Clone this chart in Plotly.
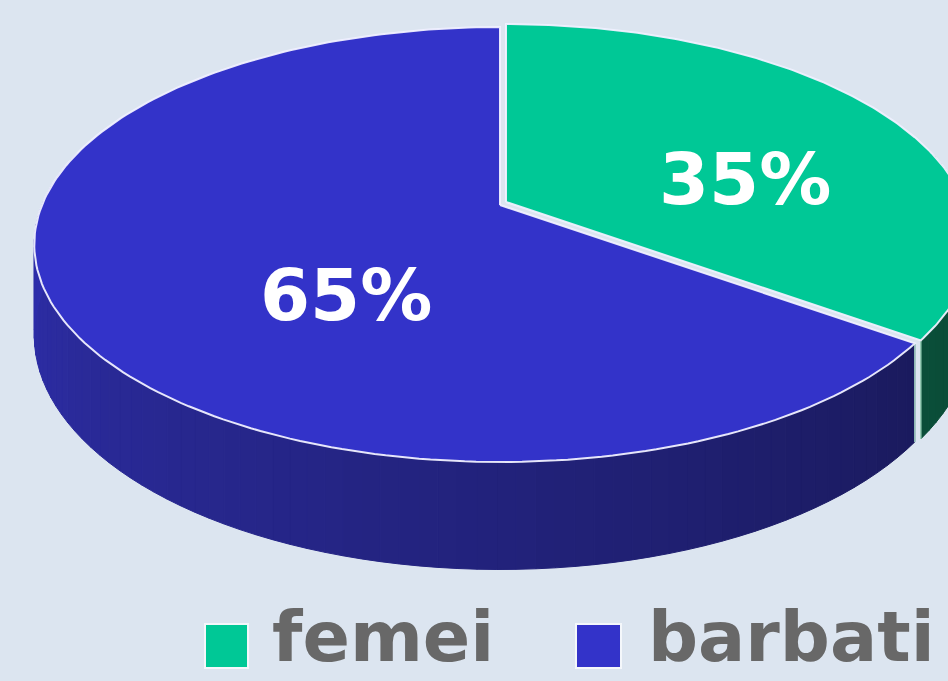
import numpy as np
import plotly.graph_objects as go

# ---------------- data ----------------
categories = ["femei", "barbati"]
values = [35, 65]
labels = ["35%", "65%"]

# ---------------- style ----------------
top_colors = ["#00C896", "#3333C9"]
wall_light = ["#0C5E44", "#2F2FAC"]
wall_dark = ["#0A4A36", "#15154A"]
explode = [(6, -3), (0, 0)]          # pixel offset of each slice
bg = "#DCE5F0"
W, H = 948, 681

# 3D projection geometry (pixel space)
CX, CY = 500, 205
A, B, K, T = 458, 210.3, 0.1816, 88


def proj(phi_deg, depth=0.0, r=1.0, off=(0, 0)):
    ph = np.radians(phi_deg)
    X, Y = r * np.sin(ph), r * np.cos(ph)
    p = 1.0 / (1.0 + K * Y)
    return CX + off[0] + A * X * p, CY + off[1] - B * Y * p + depth * T * p


def hex2rgb(h):
    h = h.lstrip("#")
    return [int(h[i:i + 2], 16) for i in (0, 2, 4)]


def mix(c1, c2, t):
    a, b = hex2rgb(c1), hex2rgb(c2)
    return "rgb(%d,%d,%d)" % tuple(round(a[i] + (b[i] - a[i]) * t) for i in range(3))


fig = go.Figure()

total = sum(values)
starts = np.cumsum([0] + values[:-1]) / total * 360
ends = np.cumsum(values) / total * 360

# ---- side walls (front part) ----
for i in range(len(values)):
    s, e = starts[i], ends[i]
    off = explode[i]
    lo, hi = max(s, 75), min(e, 285)
    if hi <= lo:
        continue
    n = max(2, int((hi - lo) / 2))
    edges = np.linspace(lo, hi, n + 1)
    for j in range(n):
        a1, a2 = edges[j], edges[j + 1]
        # gradient: lighter at the left (phi ~ 270), darker towards the right
        t = ((a1 + a2) / 2 - 90) / 180
        t = min(max(t, 0), 1)
        col = mix(wall_dark[i], wall_light[i], t)
        x1, y1 = proj(a1, off=off)
        x2, y2 = proj(a2, off=off)
        x3, y3 = proj(a2, 1, off=off)
        x4, y4 = proj(a1, 1, off=off)
        fig.add_trace(go.Scatter(
            x=[x1, x2, x3, x4, x1], y=[y1, y2, y3, y4, y1],
            fill="toself", fillcolor=col, mode="lines",
            line=dict(color=col, width=1), hoverinfo="skip", showlegend=False))
    # light edge line at the slice border
    for ang in (s, e):
        if 90 <= ang <= 270:
            xa, ya = proj(ang, off=off)
            xb, yb = proj(ang, 1, off=off)
            fig.add_trace(go.Scatter(x=[xa, xb], y=[ya, yb], mode="lines",
                                     line=dict(color="rgba(170,225,200,0.85)", width=1.5),
                                     hoverinfo="skip", showlegend=False))

# ---- top faces ----
for i in range(len(values)):
    s, e = starts[i], ends[i]
    off = explode[i]
    angs = np.linspace(s, e, 200)
    xs, ys = proj(angs, off=off)
    x0, y0 = proj(0, r=0, off=off)
    fig.add_trace(go.Scatter(
        x=np.concatenate([[x0], xs, [x0]]), y=np.concatenate([[y0], ys, [y0]]),
        fill="toself", fillcolor=top_colors[i], mode="lines",
        line=dict(color="rgba(240,240,255,0.95)", width=2),
        hoverinfo="skip", showlegend=False, name=categories[i]))

# ---- percentage labels ----
label_pos = [(745, 179), (346, 295)]
for i in range(len(values)):
    fig.add_annotation(x=label_pos[i][0], y=label_pos[i][1], text="<b>%s</b>" % labels[i],
                       showarrow=False, xanchor="center", yanchor="middle",
                       font=dict(family="DejaVu Sans", size=72, color="white"))

# ---- legend ----
leg_sq = [(205, 248), (576, 621)]
leg_tx = [270, 646]
for i in range(len(values)):
    fig.add_shape(type="rect", x0=leg_sq[i][0], x1=leg_sq[i][1], y0=624, y1=668,
                  fillcolor=top_colors[i], line=dict(color="#F4F7FB", width=2))
    fig.add_annotation(x=leg_tx[i], y=H - 1, text="<b>%s</b>" % categories[i],
                       showarrow=False, xanchor="left", yanchor="bottom",
                       font=dict(family="DejaVu Sans", size=70, color="#686868"))

fig.update_layout(
    width=W, height=H, margin=dict(l=0, r=0, t=0, b=0),
    paper_bgcolor=bg, plot_bgcolor=bg, showlegend=False,
    xaxis=dict(range=[0, W], visible=False, fixedrange=True),
    yaxis=dict(range=[H, 0], visible=False, fixedrange=True),
)

fig.write_html("out.html", post_script="document.body.style.margin='0';",
               config={"displayModeBar": False})
